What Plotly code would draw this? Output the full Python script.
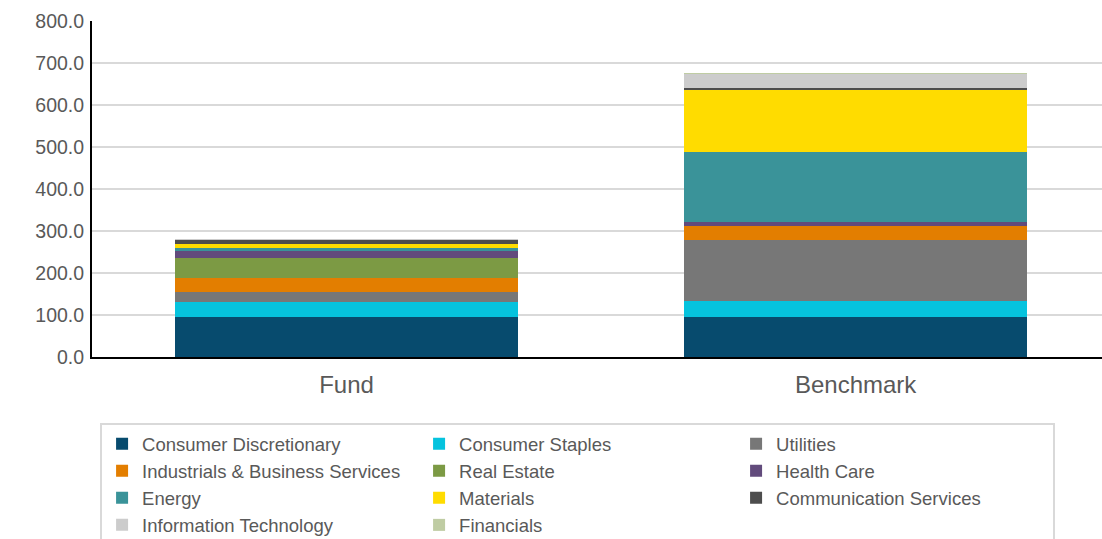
import plotly.graph_objects as go

categories = ["Fund", "Benchmark"]

sectors = [
    "Consumer Discretionary",
    "Consumer Staples",
    "Utilities",
    "Industrials & Business Services",
    "Real Estate",
    "Health Care",
    "Energy",
    "Materials",
    "Communication Services",
    "Information Technology",
    "Financials",
]

fund_values = [96.0, 35.0, 23.0, 33.0, 49.0, 16.5, 8.0, 9.5, 9.5, 1.0, 0.0]
benchmark_values = [94.5, 39.5, 144.0, 33.0, 0.0, 11.0, 167.0, 149.0, 2.5, 33.5, 1.0]

colors = [
    "#074b6e",
    "#05c3de",
    "#777777",
    "#e37e00",
    "#7c9a44",
    "#624b7c",
    "#3a9399",
    "#ffdc00",
    "#4d4d4d",
    "#cccccc",
    "#bfcca3",
]

yticks = [0, 100, 200, 300, 400, 500, 600, 700, 800]

fig = go.Figure()
for i, name in enumerate(sectors):
    fig.add_trace(go.Bar(
        x=categories,
        y=[fund_values[i], benchmark_values[i]],
        name=name,
        marker=dict(color=colors[i], line=dict(width=0)),
        width=0.675,
    ))

fig.update_layout(
    barmode="stack",
    width=1102,
    height=539,
    margin=dict(l=92, r=0, t=21, b=182, autoexpand=False),
    paper_bgcolor="white",
    plot_bgcolor="white",
    font=dict(family="Liberation Sans, Arial, sans-serif", color="#595959"),
    xaxis=dict(
        range=[-0.5, 1.484],
        showline=True,
        linecolor="#000000",
        linewidth=2,
        ticks="",
        ticklabelstandoff=5,
        tickfont=dict(size=24, color="#595959"),
        showgrid=False,
    ),
    yaxis=dict(
        range=[0, 800],
        tickvals=yticks,
        tickformat=".1f",
        showline=True,
        linecolor="#000000",
        linewidth=2,
        gridcolor="#d9d9d9",
        gridwidth=2,
        ticks="",
        ticklabelstandoff=2,
        tickfont=dict(size=19.5, color="#595959"),
        zeroline=False,
    ),
    legend=dict(
        orientation="h",
        x=0.008,
        xanchor="left",
        y=-0.197,
        yanchor="top",
        entrywidth=272,
        traceorder="normal",
        bgcolor="white",
        bordercolor="#d9d9d9",
        borderwidth=2,
        font=dict(size=18.5, color="#595959"),
    ),
    showlegend=True,
)

fig.write_html("out.html")
